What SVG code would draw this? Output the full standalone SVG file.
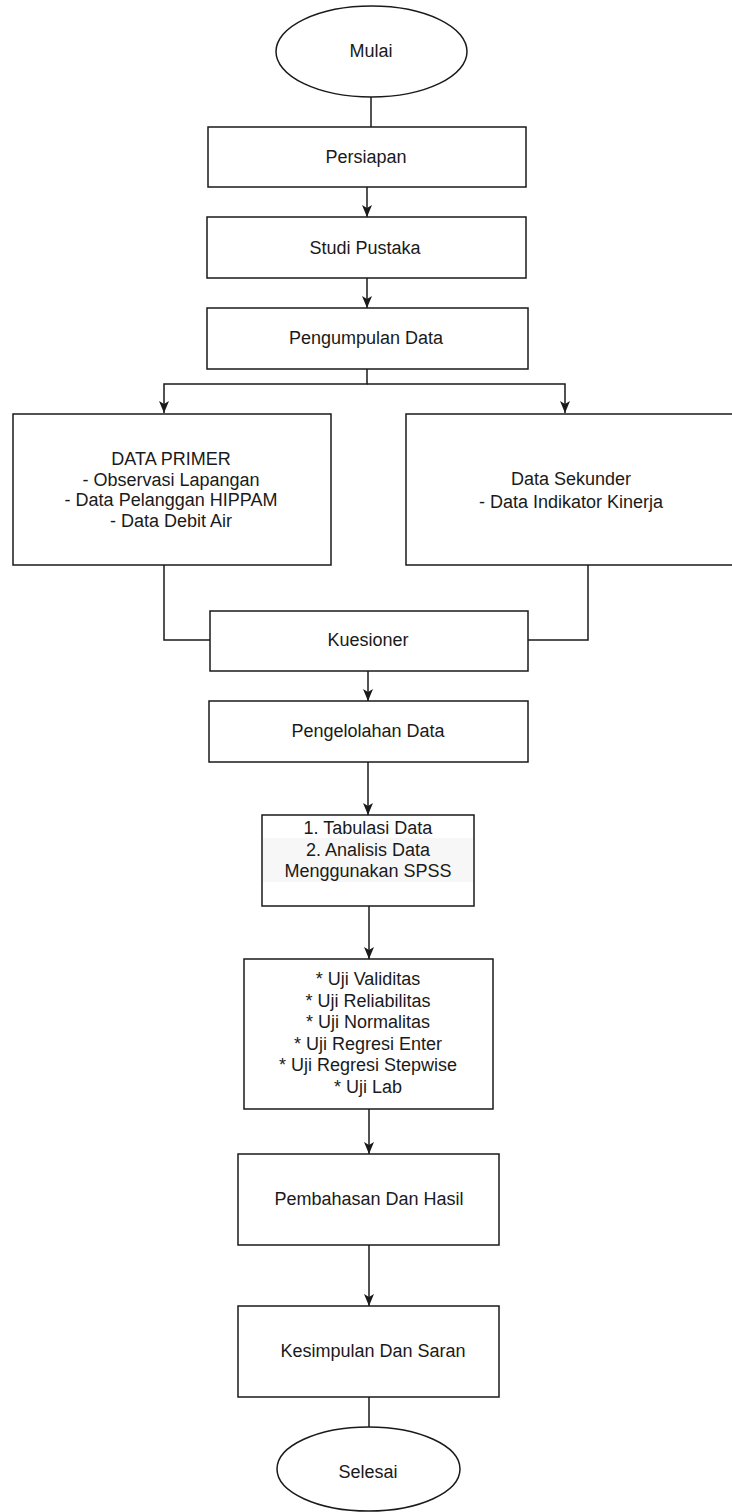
<svg xmlns="http://www.w3.org/2000/svg" width="732" height="1512" viewBox="0 0 732 1512">
<style>
.box{fill:#fff;stroke:#1a1a1a;stroke-width:1.5}
.t{font-family:"Liberation Sans",Arial,sans-serif;font-size:18px;fill:#1a1a1a;text-anchor:middle}
.c{fill:none;stroke:#1a1a1a;stroke-width:1.5}
</style>
<defs>
<marker id="ah" viewBox="0 0 12 10" refX="12" refY="5" markerWidth="12" markerHeight="10" markerUnits="userSpaceOnUse" orient="auto">
<path d="M0,0 L12,5 L0,10 L3,5 z" fill="#1a1a1a"/>
</marker>
</defs>
<rect width="732" height="1512" fill="#fff"/>
<g id="connectors">
<path class="c" d="M371,97 V127"/>
<path class="c" d="M367,187 V217" marker-end="url(#ah)"/>
<path class="c" d="M367,278 V308" marker-end="url(#ah)"/>
<path class="c" d="M367,369 V384 H164 V413" marker-end="url(#ah)"/>
<path class="c" d="M367,384 H565 V413" marker-end="url(#ah)"/>
<path class="c" d="M164,565 V640 H210"/>
<path class="c" d="M588,565 V640 H528"/>
<path class="c" d="M368,671 V701" marker-end="url(#ah)"/>
<path class="c" d="M368,762 V815" marker-end="url(#ah)"/>
<path class="c" d="M369,906 V959" marker-end="url(#ah)"/>
<path class="c" d="M369,1109 V1154" marker-end="url(#ah)"/>
<path class="c" d="M369,1245 V1306" marker-end="url(#ah)"/>
<path class="c" d="M369,1397 V1427"/>
</g>
<g id="mulai">
<ellipse class="box" cx="371.5" cy="51.5" rx="95.5" ry="45.5"/>
<text class="t" x="371" y="57">Mulai</text>
</g>
<g id="persiapan">
<rect class="box" x="208" y="127" width="318" height="60"/>
<text class="t" x="366" y="163">Persiapan</text>
</g>
<g id="studi">
<rect class="box" x="207" y="217" width="319" height="61"/>
<text class="t" x="365" y="254">Studi Pustaka</text>
</g>
<g id="pengumpulan">
<rect class="box" x="207" y="308" width="321" height="61"/>
<text class="t" x="366" y="344">Pengumpulan Data</text>
</g>
<g id="primer">
<rect class="box" x="13" y="414" width="318" height="151"/>
<text class="t" x="171" y="465">DATA PRIMER</text>
<text class="t" x="171" y="485.5">- Observasi Lapangan</text>
<text class="t" x="171" y="506">- Data Pelanggan HIPPAM</text>
<text class="t" x="171" y="526.5">- Data Debit Air</text>
</g>
<g id="sekunder">
<rect class="box" x="406" y="414" width="332" height="151"/>
<text class="t" x="571" y="485">Data Sekunder</text>
<text class="t" x="571" y="508">- Data Indikator Kinerja</text>
</g>
<g id="kuesioner">
<rect class="box" x="210" y="611" width="318" height="60"/>
<text class="t" x="368" y="646">Kuesioner</text>
</g>
<g id="pengelolahan">
<rect class="box" x="209" y="701" width="319" height="61"/>
<text class="t" x="368" y="737">Pengelolahan Data</text>
</g>
<g id="tabulasi">
<rect class="box" x="262" y="815" width="212" height="91"/>
<rect x="263" y="838" width="210" height="44" fill="#f7f7f7"/>
<text class="t" x="368" y="834">1. Tabulasi Data</text>
<text class="t" x="368" y="855.5">2. Analisis Data</text>
<text class="t" x="368" y="877">Menggunakan SPSS</text>
</g>
<g id="uji">
<rect class="box" x="244" y="959" width="249" height="150"/>
<text class="t" x="368" y="985">* Uji Validitas</text>
<text class="t" x="368" y="1006.6">* Uji Reliabilitas</text>
<text class="t" x="368" y="1028.2">* Uji Normalitas</text>
<text class="t" x="368" y="1049.8">* Uji Regresi Enter</text>
<text class="t" x="368" y="1071.4">* Uji Regresi Stepwise</text>
<text class="t" x="368" y="1093">* Uji Lab</text>
</g>
<g id="pembahasan">
<rect class="box" x="238" y="1154" width="261" height="91"/>
<text class="t" x="369" y="1205">Pembahasan Dan Hasil</text>
</g>
<g id="kesimpulan">
<rect class="box" x="238" y="1306" width="261" height="91"/>
<text class="t" x="373" y="1357">Kesimpulan Dan Saran</text>
</g>
<g id="selesai">
<ellipse class="box" cx="368.5" cy="1469" rx="91.5" ry="42"/>
<text class="t" x="368" y="1478">Selesai</text>
</g>
</svg>
